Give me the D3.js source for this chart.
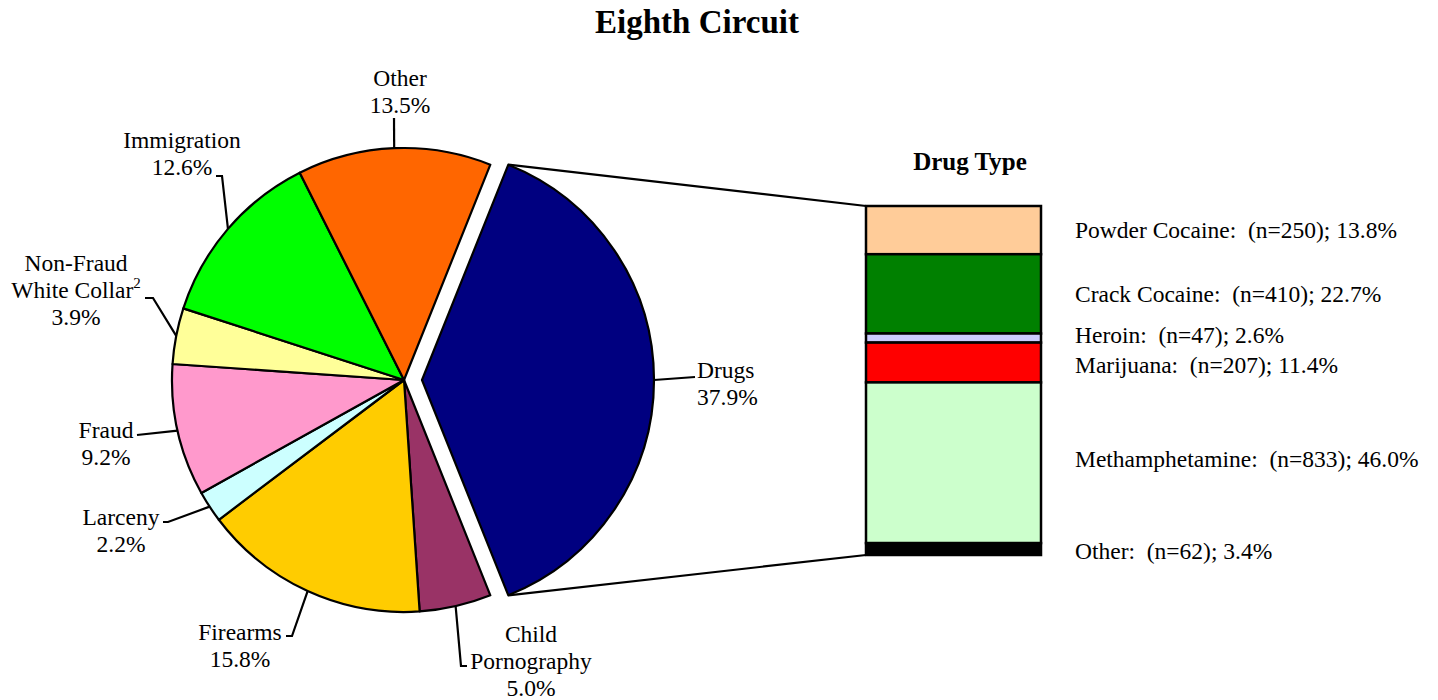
<!DOCTYPE html>
<html lang="en">
<head>
  <meta charset="UTF-8" />
  <title>Eighth Circuit</title>
  <script src="https://d3js.org/d3.v7.min.js"></script>
  <style>
    body {
      margin: 0;
      background: #fff;
      font-family: 'Liberation Serif', 'Times New Roman', serif;
    }
    svg { display: block; }
    text { white-space: pre; }
  </style>
</head>
<body>
  <div id="chart"></div>

  <script>
    // offense types, clockwise starting with the exploded Drugs slice
    const offenseNames = ["Drugs", "Child Pornography", "Firearms", "Larceny", "Fraud",
      "Non-Fraud White Collar", "Immigration", "Other"];
    const offenseShares = [37.9, 5.0, 15.8, 2.2, 9.2, 3.9, 12.6, 13.5];
    const offenseColors = ["#000080", "#993366", "#FFCC00", "#CCFFFF", "#FF99CC",
      "#FFFF99", "#00FF00", "#FF6600"];

    // drug breakdown, top to bottom of the bar
    const drugNames = ["Powder Cocaine", "Crack Cocaine", "Heroin", "Marijuana", "Methamphetamine", "Other"];
    const drugCounts = [250, 410, 47, 207, 833, 62];
    const drugShares = [13.8, 22.7, 2.6, 11.4, 46.0, 3.4];
    const drugColors = ["#FFCC99", "#008000", "#CCCCFF", "#FF0000", "#CCFFCC", "#000000"];

    const width = 1438, height = 700;
    const cx = 404, cy = 380, radius = 232, explode = 18;

    // where each pie label sits and the elbow of its leader line
    const labelLayout = {
      "Drugs": { lines: ["Drugs", "37.9%"], x: 697, y: 370, anchor: "start", leader: [[695, 377]] },
      "Child Pornography": { lines: ["Child", "Pornography", "5.0%"], x: 531, y: 634, anchor: "middle", leader: [[461, 666], [467, 666]] },
      "Firearms": { lines: ["Firearms", "15.8%"], x: 240, y: 632, anchor: "middle", leader: [[292, 636], [286, 636]] },
      "Larceny": { lines: ["Larceny", "2.2%"], x: 121, y: 517, anchor: "middle", leader: [[168, 522], [163, 522]] },
      "Fraud": { lines: ["Fraud", "9.2%"], x: 106, y: 430, anchor: "middle", leader: [[137, 435]] },
      "Non-Fraud White Collar": { lines: ["Non-Fraud", "White Collar²", "3.9%"], x: 76, y: 263, anchor: "middle", leader: [[153, 298], [145, 298]] },
      "Immigration": { lines: ["Immigration", "12.6%"], x: 182, y: 140, anchor: "middle", leader: [[222, 176], [216, 176]] },
      "Other": { lines: ["Other", "13.5%"], x: 400, y: 78, anchor: "middle", leader: [[394, 118]] }
    };

    const svg = d3.select("#chart").append("svg")
      .attr("width", width)
      .attr("height", height)
      .style("font-family", "'Liberation Serif', 'Times New Roman', serif");

    svg.append("text")
      .attr("x", 697)
      .attr("y", 33)
      .attr("text-anchor", "middle")
      .attr("font-size", 33)
      .attr("font-weight", "bold")
      .text("Eighth Circuit");

    // ---- pie ----
    const drugsSpan = offenseShares[0] / d3.sum(offenseShares) * 2 * Math.PI;
    const start = Math.PI / 2 - drugsSpan / 2;

    const pie = d3.pie()
      .sort(null)
      .value(d => d.value)
      .startAngle(start)
      .endAngle(start + 2 * Math.PI);

    const slices = pie(offenseNames.map((name, i) => ({ name, value: offenseShares[i], color: offenseColors[i] })));

    const arc = d3.arc().innerRadius(0).outerRadius(radius);

    function offset(d) {
      if (d.index !== 0) return [0, 0];
      const mid = (d.startAngle + d.endAngle) / 2;
      return [explode * Math.sin(mid), -explode * Math.cos(mid)];
    }

    const pieG = svg.append("g").attr("transform", `translate(${cx},${cy})`);

    pieG.selectAll("path.slice")
      .data(slices)
      .join("path")
      .attr("class", "slice")
      .attr("transform", d => `translate(${offset(d)})`)
      .attr("d", arc)
      .attr("fill", d => d.data.color)
      .attr("stroke", "#000")
      .attr("stroke-width", 2.2)
      .attr("stroke-linejoin", "round");

    // leader lines from the rim to the label
    pieG.selectAll("path.leader")
      .data(slices)
      .join("path")
      .attr("class", "leader")
      .attr("fill", "none")
      .attr("stroke", "#000")
      .attr("stroke-width", 2.2)
      .attr("d", d => {
        const o = offset(d);
        const mid = (d.startAngle + d.endAngle) / 2;
        const p0 = [o[0] + radius * Math.sin(mid), o[1] - radius * Math.cos(mid)];
        const pts = [p0].concat(labelLayout[d.data.name].leader.map(p => [p[0] - cx, p[1] - cy]));
        return d3.line()(pts);
      });

    const labels = svg.append("g")
      .attr("font-size", 23.5)
      .selectAll("text")
      .data(slices)
      .join("text")
      .attr("text-anchor", d => labelLayout[d.data.name].anchor)
      .attr("dominant-baseline", "central");

    labels.each(function (d) {
      const lay = labelLayout[d.data.name];
      const t = d3.select(this);
      lay.lines.forEach((line, i) => {
        const tspan = t.append("tspan")
          .attr("x", lay.x)
          .attr("y", lay.y + i * 27);
        if (line.endsWith("²")) {
          tspan.text(line.slice(0, -1));
          t.append("tspan")
            .attr("font-size", 15)
            .attr("dy", -7)
            .text("2");
        } else {
          tspan.text(line);
        }
      });
    });

    // ---- connector lines to the bar ----
    const drugSlice = slices[0];
    const dOff = offset(drugSlice);
    const topPt = [cx + dOff[0] + radius * Math.sin(drugSlice.startAngle), cy + dOff[1] - radius * Math.cos(drugSlice.startAngle)];
    const botPt = [cx + dOff[0] + radius * Math.sin(drugSlice.endAngle), cy + dOff[1] - radius * Math.cos(drugSlice.endAngle)];

    const barX = 866, barW = 175, barTop = 206, barBottom = 555;

    const y = d3.scaleLinear()
      .domain([0, d3.sum(drugShares)])
      .range([barTop, barBottom]);

    svg.append("path")
      .attr("fill", "none")
      .attr("stroke", "#000")
      .attr("stroke-width", 2.2)
      .attr("d", d3.line()([topPt, [barX, barTop]]));
    svg.append("path")
      .attr("fill", "none")
      .attr("stroke", "#000")
      .attr("stroke-width", 2.2)
      .attr("d", d3.line()([botPt, [barX, barBottom]]));

    // ---- stacked drug bar ----
    const cum = d3.cumsum([0].concat(drugShares));
    const drugData = drugNames.map((name, i) => ({
      name, n: drugCounts[i], pct: drugShares[i], color: drugColors[i],
      y0: cum[i], y1: cum[i + 1]
    }));

    svg.append("text")
      .attr("x", 970)
      .attr("y", 170)
      .attr("text-anchor", "middle")
      .attr("font-size", 25)
      .attr("font-weight", "bold")
      .text("Drug Type");

    svg.append("g")
      .selectAll("rect")
      .data(drugData)
      .join("rect")
      .attr("x", barX)
      .attr("y", d => y(d.y0))
      .attr("width", barW)
      .attr("height", d => y(d.y1) - y(d.y0))
      .attr("fill", d => d.color)
      .attr("stroke", "#000")
      .attr("stroke-width", 2.5);

    const labelNudge = { "Heroin": -3, "Marijuana": 2, "Methamphetamine": -4, "Other": 2 };

    svg.append("g")
      .attr("font-size", 23.5)
      .selectAll("text")
      .data(drugData)
      .join("text")
      .attr("x", 1075)
      .attr("y", d => (y(d.y0) + y(d.y1)) / 2 + (labelNudge[d.name] || 0))
      .attr("dominant-baseline", "central")
      .text(d => `${d.name}:  (n=${d.n}); ${d.pct.toFixed(1)}%`);
  </script>
</body>
</html>
